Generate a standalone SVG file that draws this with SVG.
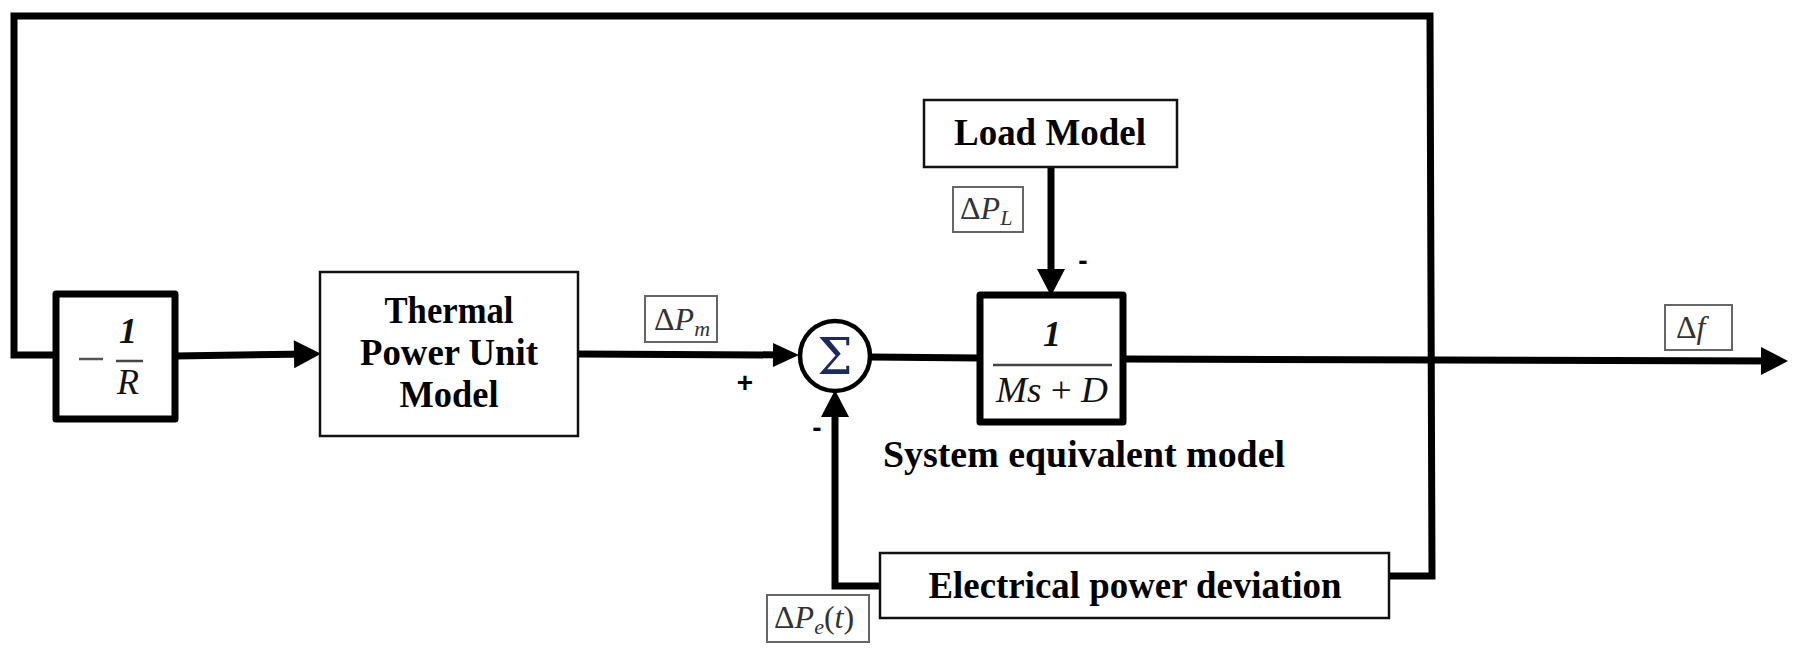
<svg xmlns="http://www.w3.org/2000/svg" width="1799" height="659" viewBox="0 0 1799 659">
<defs>
<marker id="ah" markerUnits="userSpaceOnUse" markerWidth="28" markerHeight="30" refX="16" refY="14" orient="auto" overflow="visible">
<path d="M0,0 L27,14 L0,28 Z" fill="#000"/>
</marker>
<marker id="ahs" markerUnits="userSpaceOnUse" markerWidth="28" markerHeight="28" refX="16" refY="12" orient="auto" overflow="visible">
<path d="M0,0 L26,12 L0,24 Z" fill="#000"/>
</marker>
</defs>
<style>
.ln{fill:none;stroke:#000;stroke-width:7;stroke-linejoin:miter;stroke-linecap:square}
.ar{fill:none;stroke:#000;stroke-width:7;stroke-linecap:butt;stroke-linejoin:miter}
.thick{fill:#fff;stroke:#000;stroke-width:7;stroke-linejoin:round}
.thin{fill:#fff;stroke:#111;stroke-width:2.5}
.lbl{fill:#fff;stroke:#666;stroke-width:2}
.t{font-family:"Liberation Serif",serif;font-weight:bold;font-size:37px;fill:#000;text-anchor:middle}
.m{font-family:"Liberation Serif",serif;font-style:italic;font-size:36px;fill:#111;text-anchor:middle}
.l{font-family:"Liberation Serif",serif;font-size:32px;fill:#333}
.sgn{font-family:"Liberation Sans",sans-serif;font-weight:bold;font-size:28px;fill:#000;text-anchor:middle}
.bar{stroke:#444;stroke-width:2.5}
</style>
<rect width="1799" height="659" fill="#fff"/>

<g id="connectors">
<path class="ln" d="M1389,576 L1432,576 L1430,16 L14,16 L14,355 L56,355"/>
<path class="ar" d="M175,356 L310,354" marker-end="url(#ah)"/>
<path class="ar" d="M578,354 L789,355" marker-end="url(#ahs)"/>
<path class="ar" d="M870,357 L980,358"/>
<path class="ar" d="M1123,359 L1777,361" marker-end="url(#ah)"/>
<path class="ar" d="M1051,167 L1051,285" marker-end="url(#ah)"/>
<path class="ar" d="M880,586 L835,586 L835,401" marker-end="url(#ah)"/>
</g>

<g id="gain">
<rect class="thick" x="56" y="294" width="119" height="125"/>
<line x1="79" y1="359" x2="103" y2="359" stroke="#555" stroke-width="2.5"/>
<text class="m" x="128" y="343" font-size="34" font-weight="bold">1</text>
<line class="bar" x1="116" y1="361" x2="143" y2="361"/>
<text class="m" x="128" y="394" font-size="34">R</text>
</g>

<g id="thermal">
<rect class="thin" x="320" y="272" width="258" height="164"/>
<text class="t" x="449" y="323" textLength="129" lengthAdjust="spacingAndGlyphs">Thermal</text>
<text class="t" x="449" y="365" textLength="178" lengthAdjust="spacingAndGlyphs">Power Unit</text>
<text class="t" x="449" y="407" textLength="99" lengthAdjust="spacingAndGlyphs">Model</text>
</g>

<g id="sum">
<circle cx="835" cy="356" r="35" fill="#fff" stroke="#000" stroke-width="4.5"/>
<text x="835" y="374" style="font-family:'DejaVu Serif',serif;font-size:50px;fill:#1c2a5c;text-anchor:middle">Σ</text>
</g>

<g id="system">
<rect class="thick" x="980" y="295" width="143" height="127"/>
<text class="m" x="1052" y="346" font-weight="bold">1</text>
<line class="bar" x1="993" y1="365" x2="1112" y2="365"/>
<text class="m" x="1052" y="402" textLength="112" lengthAdjust="spacingAndGlyphs">Ms <tspan font-style="normal">+</tspan> D</text>
<text class="t" x="1084" y="467" textLength="402" lengthAdjust="spacingAndGlyphs">System equivalent model</text>
</g>

<g id="load">
<rect class="thin" x="924" y="100" width="253" height="67"/>
<text class="t" x="1050" y="145" textLength="192" lengthAdjust="spacingAndGlyphs">Load Model</text>
</g>

<g id="electrical">
<rect class="thin" x="880" y="553" width="509" height="65"/>
<text class="t" x="1135" y="598" textLength="413" lengthAdjust="spacingAndGlyphs">Electrical power deviation</text>
</g>

<g id="label-dPm">
<rect class="lbl" x="645" y="296" width="72" height="46"/>
<text class="l" x="654" y="330">Δ<tspan font-style="italic">P</tspan><tspan font-style="italic" font-size="22" dy="6">m</tspan></text>
</g>

<g id="label-dPL">
<rect class="lbl" x="953" y="187" width="70" height="45"/>
<text class="l" x="960" y="219">Δ<tspan font-style="italic">P</tspan><tspan font-style="italic" font-size="22" dy="6">L</tspan></text>
</g>

<g id="label-dPe">
<rect class="lbl" x="767" y="595" width="102" height="47"/>
<text class="l" x="774" y="628">Δ<tspan font-style="italic">P</tspan><tspan font-style="italic" font-size="22" dy="6">e</tspan><tspan dy="-6">(</tspan><tspan font-style="italic">t</tspan>)</text>
</g>

<g id="label-df">
<rect class="lbl" x="1665" y="305" width="67" height="45"/>
<text class="l" x="1676" y="338">Δ<tspan font-style="italic">f</tspan></text>
</g>

<g id="signs">
<text class="sgn" x="745" y="392" font-weight="normal" font-size="32">+</text>
<text class="sgn" x="817" y="437">-</text>
<text class="sgn" x="1083" y="270">-</text>
</g>
</svg>
